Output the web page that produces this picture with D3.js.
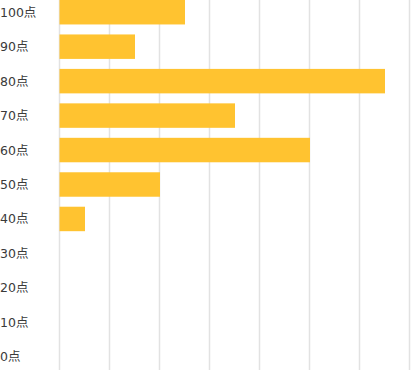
<!DOCTYPE html>
<html>
<head>
<meta charset="utf-8">
<script src="https://cdn.jsdelivr.net/npm/d3@7"></script>
<style>
  body { margin: 0; background: #fff; }
  svg { display: block; }
</style>
</head>
<body>
<div id="chart"></div>
<script>
// score categories (top to bottom) and number of students
const categories = ["100点", "90点", "80点", "70点", "60点", "50点", "40点", "30点", "20点", "10点", "0点"];
const counts = [5, 3, 13, 7, 10, 4, 1, 0, 0, 0, 0];
const gridTicks = [0, 2, 4, 6, 8, 10, 12, 14];

const width = 411;
const height = 370;

const svg = d3.select("#chart").append("svg")
    .attr("width", width)
    .attr("height", height);

const x = d3.scaleLinear()
    .domain([0, 14])
    .range([60, 410]);

const y = d3.scaleBand()
    .domain(categories)
    .range([-10, 379])
    .padding(0.29);

// vertical grid lines
svg.append("g")
    .selectAll("line")
    .data(gridTicks)
    .enter()
    .append("line")
    .attr("x1", d => Math.round(x(d)) - 0.5)
    .attr("x2", d => Math.round(x(d)) - 0.5)
    .attr("y1", 0)
    .attr("y2", height)
    .attr("stroke", "#e2e2e2")
    .attr("stroke-width", 1.5);

// bars
const data = categories.map((c, i) => ({ cat: c, value: counts[i] }));

svg.append("g")
    .selectAll("rect")
    .data(data.filter(d => d.value > 0))
    .enter()
    .append("rect")
    .attr("x", x(0) - 0.5)
    .attr("y", d => y(d.cat))
    .attr("width", d => x(d.value) - x(0) + 0.5)
    .attr("height", y.bandwidth())
    .attr("fill", "#ffc330");

// category labels
svg.append("g")
    .selectAll("text")
    .data(categories)
    .enter()
    .append("text")
    .attr("x", 0)
    .attr("y", d => y(d) + y.bandwidth() / 2)
    .attr("dy", "0.36em")
    .attr("font-family", "'DejaVu Sans', 'Noto Sans CJK JP', sans-serif")
    .attr("font-size", "12.5px")
    .attr("fill", "#3a3a3a")
    .text(d => d);
</script>
</body>
</html>
